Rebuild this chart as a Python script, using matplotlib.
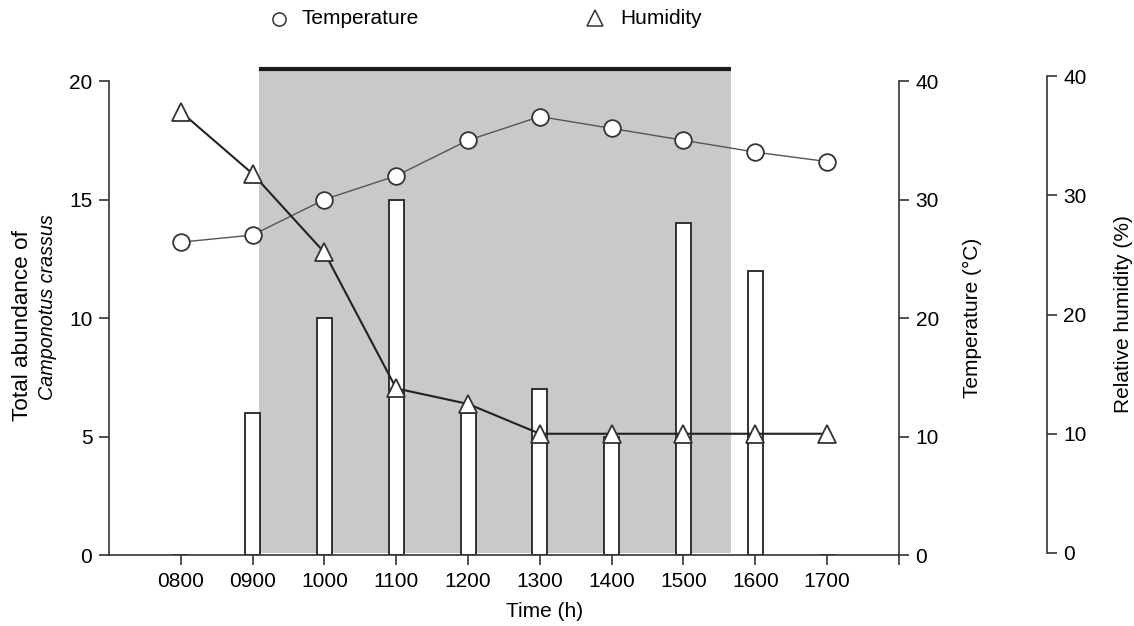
import matplotlib.pyplot as plt
import numpy as np
from matplotlib.lines import Line2D

plt.rcParams['font.family'] = ['Liberation Sans', 'DejaVu Sans']

# data
hours = [8, 9, 10, 11, 12, 13, 14, 15, 16, 17]
tick_labels = ['0800', '0900', '1000', '1100', '1200', '1300', '1400', '1500', '1600', '1700']
abundance = [0, 6, 10, 15, 6, 7, 5, 14, 12, 0]
temperature = [26.4, 27.0, 30.0, 32.0, 35.0, 37.0, 36.0, 35.0, 34.0, 33.2]
humidity = [37.0, 31.8, 25.2, 13.8, 12.5, 10.0, 10.0, 10.0, 10.0, 10.0]
shade_start, shade_end = 9.09, 15.66

fig = plt.figure(figsize=(11.34, 6.26), dpi=100)
ax = fig.add_axes([0.0961, 0.1134, 0.6966, 0.7572])
ax2 = ax.twinx()
# humidity axis sits a touch higher than the others
ax3 = fig.add_axes([0.0961, 1 - 553 / 626, 0.6966, 477 / 626], sharex=ax)
ax3.patch.set_visible(False)

# shaded period with black bar on top
ax.fill_between([shade_start, shade_end], 0.08, 20.42, color='#c8c9cb', lw=0, zorder=0, clip_on=False)
ax.plot([shade_start, shade_end], [20.5, 20.5], color='#1a1a1a', lw=3, solid_capstyle='butt', clip_on=False, zorder=1)

ax.bar(hours, abundance, width=0.21, color='white', edgecolor='#222222', lw=1.3, zorder=2)

ax2.plot(hours, temperature, color='#555555', lw=1, marker='o', ms=12,
         mfc='white', mec='#333333', mew=1.3, zorder=3)
ax3.plot(hours, humidity, color='#222222', lw=1.5, marker='^', ms=13,
         mfc='white', mec='#333333', mew=1.3, zorder=3, clip_on=False)

ax.set_xlim(7, 18)
ax.set_ylim(0, 20)
ax2.set_ylim(0, 40)
ax3.set_ylim(0, 40)

ax.set_xticks(hours + [18])
ax.set_xticklabels(tick_labels + [''])
ax.set_yticks([0, 5, 10, 15, 20])
ax2.set_yticks([0, 10, 20, 30, 40])
ax3.set_yticks([0, 10, 20, 30, 40])

for a in (ax, ax2, ax3):
    a.spines['top'].set_visible(False)
    a.tick_params(labelsize=15, length=7, width=1.2, color='#333333', direction='out', pad=5)
    for s in a.spines.values():
        s.set_linewidth(1.2)
        s.set_color('#333333')
ax.spines['right'].set_visible(False)
ax2.spines['left'].set_visible(False)
ax2.spines['bottom'].set_visible(False)
ax3.spines['left'].set_visible(False)
ax3.spines['bottom'].set_visible(False)
ax3.spines['right'].set_position(('axes', 1.187))
ax3.yaxis.tick_right()
ax3.yaxis.set_label_position('right')
ax3.tick_params(axis='x', which='both', bottom=False, labelbottom=False)

ax.set_xlabel('Time (h)', fontsize=15)
ax.xaxis.set_label_coords(0.552, -0.1)
ax.text(-0.11, 0.485, 'Total abundance of', rotation=90, fontsize=16.2,
        ha='center', va='center', transform=ax.transAxes)
ax.text(-0.078, 0.523, 'Camponotus crassus', rotation=90, fontsize=14.2, style='italic',
        ha='center', va='center', transform=ax.transAxes)
ax2.set_ylabel('Temperature (°C)', fontsize=15, labelpad=17)
ax3.set_ylabel('Relative humidity (%)', fontsize=15, labelpad=20)

# legend drawn at the top of the figure
fig.add_artist(Line2D([279 / 1134], [1 - 19 / 626], transform=fig.transFigure, ls='none', marker='o',
                      ms=9.5, mfc='white', mec='#333333', mew=1.1))
fig.text(302 / 1134, 1 - 19 / 626, 'Temperature', fontsize=15, ha='left', va='center')
fig.add_artist(Line2D([595 / 1134], [1 - 18 / 626], transform=fig.transFigure, ls='none', marker='^',
                      ms=11, mfc='white', mec='#333333', mew=1.1))
fig.text(620 / 1134, 1 - 19 / 626, 'Humidity', fontsize=15, ha='left', va='center')

fig.savefig('out.png', dpi=100)
